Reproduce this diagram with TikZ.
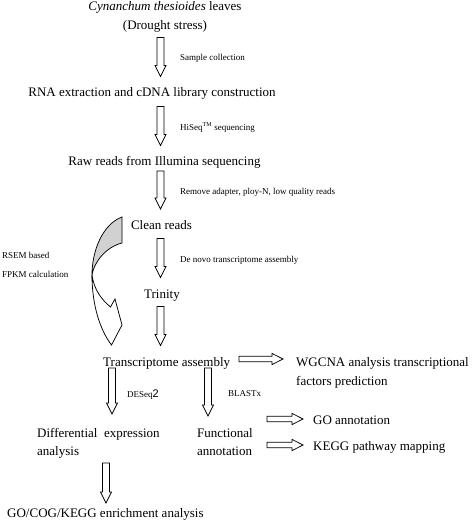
\documentclass[tikz,border=0pt]{standalone}
\usepackage{fontspec}
\setmainfont{Liberation Serif}
\newfontfamily\twofont{Liberation Sans}
\begin{document}
\begin{tikzpicture}[x=1pt,y=-1pt,
  big/.style={inner sep=0pt, font=\fontsize{13}{15}\selectfont},
  small/.style={inner sep=0pt, font=\fontsize{9}{11}\selectfont},
  blk/.style={draw=black, line width=0.75pt, fill=white},
  pics/varrow/.style={code={\path[blk] (-3.5,0) -- (-3.5,{#1-11}) -- (-5.5,{#1-11}) -- (0,#1) -- (5.5,{#1-11}) -- (3.5,{#1-11}) -- (3.5,0) -- cycle;}},
  pics/harrow/.style={code={\path[blk] (0,-2.7) -- ({#1-11},-2.7) -- ({#1-11},-5.6) -- (#1,0) -- ({#1-11},5.6) -- ({#1-11},2.7) -- (0,2.7) -- cycle;}}
]
\useasboundingbox (0,0) rectangle (474,527);

% main column
\node[big, anchor=base] (t1) at (165,11) {\textit{Cynanchum thesioides} leaves};
\node[big, anchor=base] (t2) at (165,29.5) {(Drought stress)};
\pic (a1) at (160.5,37.5) {varrow=39};
\node[small, anchor=base west] (l1) at (180,60) {Sample collection};
\node[big, anchor=base] (t3) at (152,96) {RNA extraction and cDNA library construction};
\pic (a2) at (160.5,106.5) {varrow=39};
\node[small, anchor=base west] (l2) at (180,130) {HiSeq\textsuperscript{TM} sequencing};
\node[big, anchor=base] (t4) at (164.5,165) {Raw reads from Illumina sequencing};
\pic (a3) at (160.5,171) {varrow=38};
\node[small, anchor=base west] (l3) at (180,194) {Remove adapter, ploy-N, low quality reads};
\node[big, anchor=base] (t5) at (161.5,229) {Clean reads};
\pic (a4) at (160.5,238.5) {varrow=39};
\node[small, anchor=base west] (l4) at (180,262) {De novo transcriptome assembly};
\node[big, anchor=base] (t6) at (162,298) {Trinity};
\pic (a5) at (160.5,306.5) {varrow=39};

% RSEM side
\node[small, anchor=base west] (l5) at (2,258) {RSEM based};
\node[small, anchor=base west] (l6) at (2,277) {FPKM calculation};
\path[draw=black, line width=0.75pt, fill=black!18]
  (122,217) .. controls (103,224) and (92,250) .. (92,275)
  .. controls (94,262) and (106,247) .. (122,243) -- cycle;
\path[draw=black, line width=0.75pt, fill=white]
  (92,275) .. controls (92,305) and (100,330) .. (111.5,345)
  -- (122,325) -- (115,299) -- (110.5,307)
  .. controls (102,300) and (94,290) .. (92,275) -- cycle;

% lower part
\node[big, anchor=base west] (t7) at (103,366) {Transcriptome assembly};
\pic (h1) at (239,359) {harrow=44};
\node[big, anchor=base west] (t8) at (296,366) {WGCNA analysis transcriptional};
\node[big, anchor=base west] (t8b) at (296,385) {factors prediction};
\pic (a6) at (112,368) {varrow=46};
\node[small, anchor=base west] (l7) at (127,397) {DESeq{\twofont\fontsize{11}{11}\selectfont 2}};
\pic (a7) at (208,368) {varrow=48};
\node[small, anchor=base west] (l8) at (228,396) {BLASTx};
\node[big, anchor=base west] (t9) at (37,437) {Differential\ \ expression};
\node[big, anchor=base west] (t9b) at (37,455) {analysis};
\node[big, anchor=base west] (t10) at (197,437) {Functional};
\node[big, anchor=base west] (t10b) at (197,455) {annotation};
\pic (h2) at (267,419) {harrow=36};
\pic (h3) at (267,445) {harrow=36};
\node[big, anchor=base west] (t11) at (313,424) {GO annotation};
\node[big, anchor=base west] (t12) at (313,450) {KEGG pathway mapping};
\pic (a8) at (106,463) {varrow=40};
\node[big, anchor=base west] (t13) at (7,517) {GO/COG/KEGG enrichment analysis};
\end{tikzpicture}
\end{document}
